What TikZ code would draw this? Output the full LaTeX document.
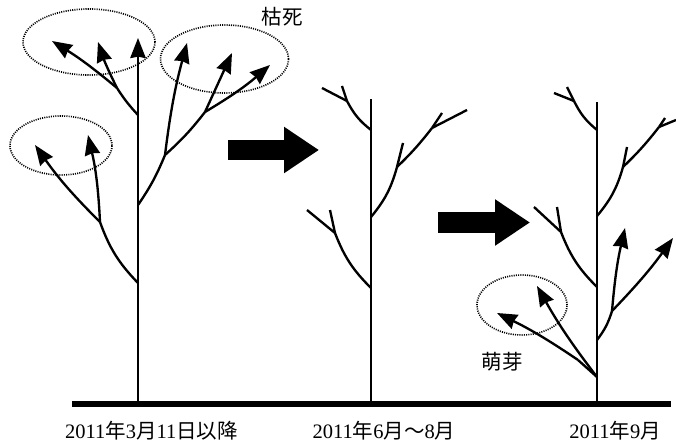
\documentclass[tikz,border=0pt]{standalone}
\usepackage{fontspec}
\setmainfont{Liberation Serif}
\newfontfamily\jpfont{Noto Sans CJK JP}
\newcommand\ja[1]{{\jpfont #1}}
\usetikzlibrary{arrows.meta}

\begin{document}
\begin{tikzpicture}[
    x=0.03cm, y=0.03cm,
    every node/.style={font=\fontsize{17.5}{17.5}\selectfont, inner sep=0pt},
    trunk/.style={line width=2.1pt},
    branch/.style={line width=2pt},
    shoot/.style={line width=2pt, -{Stealth[length=6mm, width=4.6mm, inset=0.4mm]}},
    bud/.style={line width=1.4pt, dash pattern=on 0.9pt off 1pt},
    ground/.style={line width=4.5pt},
    later/.style={line width=0.6cm, -{Triangle[length=1.05cm, width=1.32cm]}}
]
\useasboundingbox (0,0) rectangle (676,443);

% ground and dates
\draw[ground] (72,39) -- (671,39);
\node (d1) at (151.5,12) {2011\ja{年}3\ja{月}11\ja{日以降}};
\node (d2) at (384,12) {2011\ja{年}6\ja{月〜}8\ja{月}};
\node (d3) at (615,12) {2011\ja{年}9\ja{月}};

% tree 1: just after the disaster
\coordinate (g1) at (138,39);
\coordinate (top1) at (138,405);
\coordinate (t1a) at (138,328);
\coordinate (t1b) at (138,238);
\coordinate (t1c) at (138,160);
\coordinate (f1a) at (117,355);
\coordinate (f1b) at (165,288);
\coordinate (f1c) at (205,331);
\coordinate (f1d) at (100,221);
\draw[shoot] (g1) -- (top1);
\draw[branch] (t1a) to[bend left=5] (f1a);
\draw[shoot] (f1a) to[bend left=4] (98,401);
\draw[shoot] (f1a) to[bend right=4] (52,402);
\draw[branch] (t1b) to[bend right=6] (f1b);
\draw[shoot] (f1b) to[bend left=4] (187,400);
\draw[branch] (f1b) to[bend right=5] (f1c);
\draw[shoot] (f1c) -- (232,390);
\draw[shoot] (f1c) to[bend right=5] (270,378);
\draw[branch] (t1c) to[bend left=12] (f1d);
\draw[shoot] (f1d) to[bend right=5] (88,308);
\draw[shoot] (f1d) to[bend left=5] (35,298);

\draw[bud] (89,401) ellipse [x radius=66, y radius=33];
\draw[bud] (224.5,384) ellipse [x radius=64, y radius=34];
\draw[bud] (61,297.5) ellipse [x radius=51, y radius=29.5];
\node (dead) at (282,426.5) {\ja{枯死}};

\draw[later] (228,293) -- (319,293);

% tree 2: dead tips only
\coordinate (g2) at (371,39);
\coordinate (top2) at (371,344);
\coordinate (t2a) at (371,313);
\coordinate (t2b) at (371,226);
\coordinate (t2c) at (371,155);
\coordinate (f2a) at (347,342);
\coordinate (f2b) at (397,276);
\coordinate (f2c) at (432,315);
\coordinate (f2d) at (335,210);
\draw[trunk] (g2) -- (top2);
\draw[branch] (t2a) to[bend left=12] (f2a);
\draw[branch] (f2a) -- (322,355);
\draw[branch] (f2a) -- (342,357);
\draw[branch] (t2b) to[bend right=12] (f2b);
\draw[branch] (f2b) -- (403,300);
\draw[branch] (f2b) to[bend right=4] (f2c);
\draw[branch] (f2c) -- (467,333);
\draw[branch] (f2c) -- (442,330);
\draw[branch] (t2c) to[bend left=12] (f2d);
\draw[branch] (f2d) -- (307,233);
\draw[branch] (f2d) -- (330,233);

\draw[later] (438,220.5) -- (530,220.5);

% tree 3: new shoots from the trunk
\coordinate (g3) at (597,39);
\coordinate (top3) at (597,341);
\coordinate (t3a) at (597,313);
\coordinate (t3b) at (597,227);
\coordinate (t3c) at (597,156);
\coordinate (t3d) at (597,103);
\coordinate (t3e) at (597,66);
\coordinate (f3a) at (574,342);
\coordinate (f3b) at (623,276);
\coordinate (f3c) at (659,316);
\coordinate (f3d) at (561,211);
\coordinate (f3e) at (612,132);
\coordinate (f3f) at (578,83);
\draw[trunk] (g3) -- (top3);
\draw[branch] (t3a) to[bend left=12] (f3a);
\draw[branch] (f3a) -- (554,350);
\draw[branch] (f3a) -- (567,356);
\draw[branch] (t3b) to[bend right=12] (f3b);
\draw[branch] (f3b) -- (627,296);
\draw[branch] (f3b) to[bend right=4] (f3c);
\draw[branch] (f3c) -- (676,323);
\draw[branch] (f3c) -- (665,325);
\draw[branch] (t3c) to[bend left=12] (f3d);
\draw[branch] (f3d) -- (534,236);
\draw[branch] (f3d) -- (557,236);
\draw[branch] (t3d) to[bend right=10] (f3e);
\draw[shoot] (f3e) to[bend left=4] (625,215);
\draw[shoot] (f3e) to[bend right=4] (673,205);
\draw[shoot] (t3e) to[bend left=4] (537,157);
\draw[branch] (t3e) -- (f3f);
\draw[shoot] (f3f) to[bend right=4] (497,130);

\draw[bud] (522,138) ellipse [x radius=45, y radius=30];
\node (sprout) at (502,81) {\ja{萌芽}};
\end{tikzpicture}
\end{document}
